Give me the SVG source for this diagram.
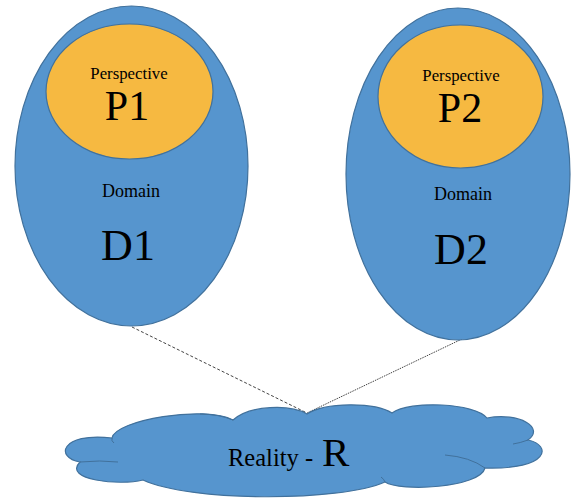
<svg xmlns="http://www.w3.org/2000/svg" width="571" height="498" viewBox="0 0 571 498">
<style>
.dom{fill:#5695CE;stroke:#41719C;stroke-width:1.2}
.per{fill:#F6B941;stroke:#41719C;stroke-width:1.2}
.t{font-family:"Liberation Serif","Times New Roman",serif;fill:#000;text-anchor:middle}
.s{font-size:16.8px}
.d{font-size:18px}
.p{font-size:42px}
.b{font-size:44px}
.c{fill:none;stroke:#41719C;stroke-width:1}
</style>
<rect width="571" height="498" fill="#fff"/>
<g id="connectors">
<line x1="132" y1="327" x2="307" y2="413" stroke="#444" stroke-width="1" stroke-dasharray="3,2"/>
<line x1="462" y1="339" x2="307" y2="413" stroke="#444" stroke-width="1" stroke-dasharray="1.5,1"/>
</g>
<g id="domain1">
<ellipse class="dom" cx="131.5" cy="166" rx="116.5" ry="160"/>
<text class="t d" x="131" y="197">Domain</text>
<text class="t b" x="128" y="260">D1</text>
</g>
<g id="perspective1">
<ellipse class="per" cx="129.5" cy="91.5" rx="83.5" ry="67.5"/>
<text class="t s" x="129" y="79">Perspective</text>
<text class="t p" x="127" y="120">P1</text>
</g>
<g id="domain2">
<ellipse class="dom" cx="458" cy="174" rx="112" ry="166"/>
<text class="t d" x="463" y="200">Domain</text>
<text class="t b" x="461" y="264">D2</text>
</g>
<g id="perspective2">
<ellipse class="per" cx="460.5" cy="96.5" rx="82.5" ry="71.5"/>
<text class="t s" x="461" y="81">Perspective</text>
<text class="t p" x="460" y="122">P2</text>
</g>
<g id="reality">
<path class="dom" d="M112 438 C115 420 205 405 233 420 C250 405 290 404 307 414 C325 402 375 402 392 413 C410 400 475 403 487 418 C520 412 545 428 528 440 C552 445 550 470 485 468 C480 488 400 492 385 482 C340 502 190 502 143 480 C120 486 62 480 80 462 C55 458 60 432 112 438 Z"/>
<path class="c" d="M80 462 Q100 460 118 462 M233 420 Q218 414 200 414 M528 440 Q520 443 513 444 M485 468 Q470 457 445 455 M112 438 Q111 441 114 443 M385 482 Q384 479 381 477"/>
<text class="t" x="228" y="466" style="text-anchor:start;font-size:24.5px">Reality -</text>
<text class="t" x="322" y="466" style="text-anchor:start;font-size:41px">R</text>
</g>
</svg>
